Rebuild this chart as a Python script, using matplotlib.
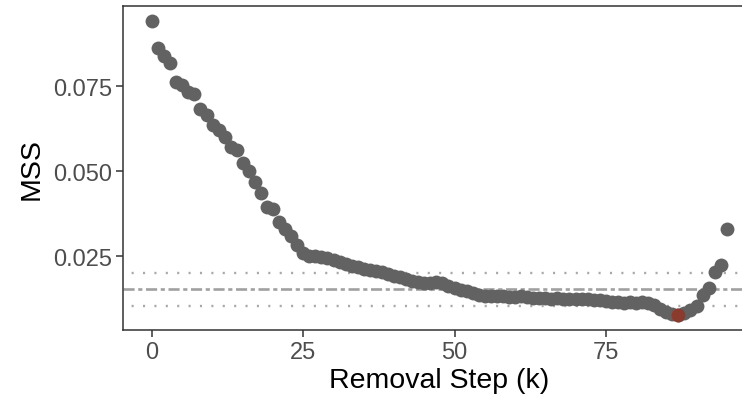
"""Scatter of MSS against removal step, with the reference band lines."""
import numpy as np
import matplotlib
matplotlib.use("Agg")
import matplotlib.pyplot as plt

plt.rcParams['font.family'] = ['Liberation Sans', 'DejaVu Sans']
plt.rcParams['lines.scale_dashes'] = False

# Data
steps = list(range(96))
mss = [
    0.0941, 0.0862, 0.0839, 0.0817, 0.0761, 0.0753, 0.0731, 0.0728, 0.0682, 0.0665,
    0.0636, 0.0621, 0.0599, 0.0571, 0.0563, 0.0523, 0.0499, 0.0467, 0.0434, 0.0395,
    0.0388, 0.0351, 0.0329, 0.0308, 0.0282, 0.0260, 0.0251, 0.0250, 0.0247, 0.0245,
    0.0237, 0.0231, 0.0226, 0.0220, 0.0217, 0.0213, 0.0209, 0.0206, 0.0202, 0.0196,
    0.0192, 0.0187, 0.0182, 0.0177, 0.0174, 0.0172, 0.0171, 0.0173, 0.0171, 0.0163,
    0.0156, 0.0150, 0.0146, 0.0141, 0.0136, 0.0133, 0.0132, 0.0131, 0.0132, 0.0130,
    0.0130, 0.0131, 0.0129, 0.0127, 0.0126, 0.0126, 0.0125, 0.0126, 0.0124, 0.0125,
    0.0123, 0.0124, 0.0123, 0.0120, 0.0121, 0.0118, 0.0116, 0.0114, 0.0113, 0.0114,
    0.0113, 0.0114, 0.0112, 0.0106, 0.0095, 0.0084, 0.0079, 0.0076, 0.0083, 0.0090,
    0.0103, 0.0134, 0.0156, 0.0203, 0.0225, 0.0329,
]
best_step = 87
center_line = 0.0152
band_lines = [0.0201, 0.0104]

x_ticks = [0, 25, 50, 75]
y_ticks = [0.025, 0.050, 0.075]
y_tick_labels = ["0.025", "0.050", "0.075"]

DARK = "#333333"

fig = plt.figure(figsize=(7.42, 4.02), dpi=100)
# panel runs past the right edge of the picture, as in the reference
ax = fig.add_axes([0.1662, 0.1769, 0.852, 0.8047])

for y in band_lines:
    ax.axhline(y, color="#a8a8a8", lw=1.7, linestyle=(2, (1.5, 6.7)), zorder=1)
ax.axhline(center_line, color="#a0a0a0", lw=1.9,
           linestyle=(0, (8, 2.6, 3, 2.6)), zorder=1)

ax.scatter(steps, mss, s=100, color="#626262", linewidths=0, zorder=2)
ax.scatter([steps[best_step]], [mss[best_step]], s=100, color="#8b3a2e",
           linewidths=0, zorder=3)

lo, hi = min(mss), max(mss)
pad = (hi - lo) * 0.05
ax.set_ylim(lo - pad, hi + pad)
ax.set_xlim(-4.75, 99.75)

ax.set_xticks(x_ticks)
ax.set_yticks(y_ticks)
ax.set_yticklabels(y_tick_labels)
ax.tick_params(axis="both", colors=DARK, labelcolor="#4d4d4d", labelsize=17,
               length=5, width=1.1, direction="out", pad=3)

for side in ["left", "bottom", "top", "right"]:
    ax.spines[side].set_color(DARK)
    ax.spines[side].set_linewidth(1.1)

ax.set_xlabel("Removal Step (k)", fontsize=20.5, color="black", labelpad=3)
ax.set_ylabel("MSS", fontsize=20.5, color="black", labelpad=6)

fig.savefig("out.png", dpi=100)
